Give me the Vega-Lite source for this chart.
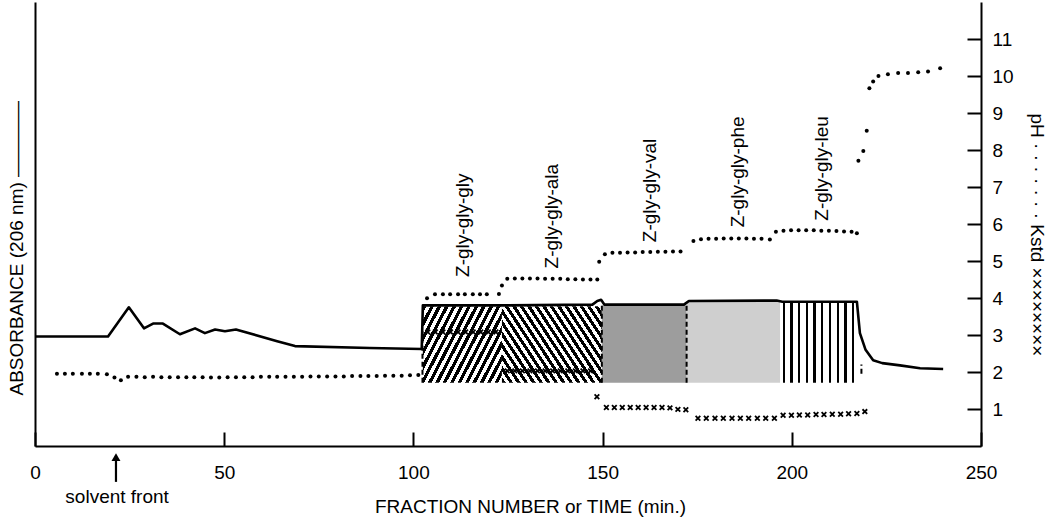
{
  "$schema": "https://vega.github.io/schema/vega-lite/v6.json",
  "width": 946,
  "height": 444,
  "autosize": {"type": "none"},
  "padding": {"left": 35, "top": 2, "right": 69, "bottom": 71},
  "background": "white",
  "config": {
    "view": {"stroke": null},
    "font": "Liberation Sans",
    "text": {"font": "Liberation Sans", "color": "#000"},
    "axis": {
      "domainColor": "#000", "domainWidth": 2, "tickColor": "#000", "tickWidth": 2,
      "labelColor": "#000", "labelFont": "Liberation Sans", "labelFontSize": 19,
      "titleFont": "Liberation Sans", "titleFontSize": 19, "titleFontWeight": "normal",
      "titleColor": "#000", "grid": false
    }
  },
  "datasets": {
    "absorbance": [
      {"x": 0, "y": 2.96}, {"x": 19.3, "y": 2.96}, {"x": 24.8, "y": 3.75}, {"x": 28.8, "y": 3.18},
      {"x": 31.2, "y": 3.31}, {"x": 33.8, "y": 3.31}, {"x": 38.3, "y": 3.02}, {"x": 42.3, "y": 3.18},
      {"x": 44.9, "y": 3.05}, {"x": 47.6, "y": 3.15}, {"x": 50.2, "y": 3.1}, {"x": 53.1, "y": 3.15},
      {"x": 64, "y": 2.83}, {"x": 68.7, "y": 2.7}, {"x": 88.5, "y": 2.65}, {"x": 102.2, "y": 2.62},
      {"x": 102.5, "y": 3.8}, {"x": 123.4, "y": 3.8}, {"x": 147.3, "y": 3.82}, {"x": 148.6, "y": 3.92},
      {"x": 149.6, "y": 3.95}, {"x": 150.5, "y": 3.82}, {"x": 171.5, "y": 3.82}, {"x": 172.8, "y": 3.92},
      {"x": 196, "y": 3.93}, {"x": 197.5, "y": 3.9}, {"x": 217.2, "y": 3.9}, {"x": 218, "y": 3.05},
      {"x": 219.5, "y": 2.6}, {"x": 221.5, "y": 2.32}, {"x": 223.9, "y": 2.24}, {"x": 228.6, "y": 2.18},
      {"x": 233.9, "y": 2.1}, {"x": 240, "y": 2.08}
    ],
    "ph": [
      {"x": 5.8, "y": 1.95}, {"x": 7.9, "y": 1.95}, {"x": 10.0, "y": 1.95}, {"x": 12.4, "y": 1.95},
      {"x": 14.5, "y": 1.95}, {"x": 16.6, "y": 1.95}, {"x": 19.0, "y": 1.94}, {"x": 21.0, "y": 1.85},
      {"x": 22.7, "y": 1.78}, {"x": 24.6, "y": 1.87}, {"x": 26.8, "y": 1.87}, {"x": 29.0, "y": 1.86},
      {"x": 31.2, "y": 1.87}, {"x": 33.4, "y": 1.86}, {"x": 35.6, "y": 1.86}, {"x": 37.8, "y": 1.86},
      {"x": 40.0, "y": 1.86}, {"x": 42.1, "y": 1.86}, {"x": 44.3, "y": 1.86}, {"x": 46.5, "y": 1.85},
      {"x": 48.7, "y": 1.85}, {"x": 50.9, "y": 1.86}, {"x": 53.1, "y": 1.86}, {"x": 55.3, "y": 1.86},
      {"x": 57.5, "y": 1.86}, {"x": 59.7, "y": 1.87}, {"x": 61.9, "y": 1.87}, {"x": 64.0, "y": 1.87},
      {"x": 66.2, "y": 1.87}, {"x": 68.4, "y": 1.87}, {"x": 70.6, "y": 1.87}, {"x": 72.8, "y": 1.88},
      {"x": 75.0, "y": 1.88}, {"x": 77.2, "y": 1.88}, {"x": 79.4, "y": 1.88}, {"x": 81.6, "y": 1.88},
      {"x": 83.8, "y": 1.89}, {"x": 86.0, "y": 1.89}, {"x": 88.1, "y": 1.89}, {"x": 90.3, "y": 1.89},
      {"x": 92.5, "y": 1.9}, {"x": 94.7, "y": 1.9}, {"x": 96.9, "y": 1.9}, {"x": 99.1, "y": 1.91},
      {"x": 101.3, "y": 1.92},
      {"x": 103.6, "y": 3.99}, {"x": 105.7, "y": 4.1}, {"x": 107.8, "y": 4.1}, {"x": 109.7, "y": 4.1},
      {"x": 111.8, "y": 4.1}, {"x": 113.6, "y": 4.1}, {"x": 115.7, "y": 4.1}, {"x": 117.6, "y": 4.1},
      {"x": 119.4, "y": 4.1}, {"x": 122.6, "y": 4.11},
      {"x": 123.4, "y": 4.34}, {"x": 124.8, "y": 4.52}, {"x": 126.8, "y": 4.53}, {"x": 128.8, "y": 4.53},
      {"x": 130.8, "y": 4.53}, {"x": 132.8, "y": 4.53}, {"x": 134.8, "y": 4.52}, {"x": 136.8, "y": 4.52},
      {"x": 138.8, "y": 4.52}, {"x": 140.8, "y": 4.51}, {"x": 142.8, "y": 4.51}, {"x": 144.8, "y": 4.5},
      {"x": 146.8, "y": 4.5}, {"x": 148.6, "y": 4.5},
      {"x": 149.1, "y": 4.98}, {"x": 150.6, "y": 5.18}, {"x": 152.6, "y": 5.22}, {"x": 154.6, "y": 5.22},
      {"x": 156.6, "y": 5.23}, {"x": 158.6, "y": 5.23}, {"x": 160.6, "y": 5.24}, {"x": 162.6, "y": 5.24},
      {"x": 164.6, "y": 5.25}, {"x": 166.6, "y": 5.25}, {"x": 168.6, "y": 5.26}, {"x": 170.6, "y": 5.26},
      {"x": 174.0, "y": 5.54}, {"x": 176.0, "y": 5.59}, {"x": 178.0, "y": 5.6}, {"x": 180.0, "y": 5.6},
      {"x": 182.0, "y": 5.61}, {"x": 184.0, "y": 5.61}, {"x": 186.0, "y": 5.61}, {"x": 188.0, "y": 5.61},
      {"x": 190.0, "y": 5.6}, {"x": 192.0, "y": 5.6}, {"x": 194.2, "y": 5.58},
      {"x": 195.8, "y": 5.79}, {"x": 197.8, "y": 5.82}, {"x": 199.8, "y": 5.83}, {"x": 201.8, "y": 5.83},
      {"x": 203.8, "y": 5.83}, {"x": 205.8, "y": 5.83}, {"x": 207.8, "y": 5.82}, {"x": 209.8, "y": 5.82},
      {"x": 211.8, "y": 5.81}, {"x": 213.8, "y": 5.8}, {"x": 215.8, "y": 5.79}, {"x": 217.2, "y": 5.75},
      {"x": 217.6, "y": 7.71}, {"x": 218.9, "y": 7.97}, {"x": 219.8, "y": 8.52}, {"x": 220.5, "y": 9.67},
      {"x": 221.5, "y": 9.85}, {"x": 222.9, "y": 10.0}, {"x": 225.4, "y": 10.05}, {"x": 228.1, "y": 10.08},
      {"x": 230.7, "y": 10.08}, {"x": 233.4, "y": 10.1}, {"x": 236.0, "y": 10.12}, {"x": 239.2, "y": 10.21}
    ],
    "kstd": [
      {"x": 103.8, "y": 3.08}, {"x": 105.8, "y": 3.08}, {"x": 107.8, "y": 3.08}, {"x": 109.8, "y": 3.08},
      {"x": 111.8, "y": 3.08}, {"x": 113.8, "y": 3.08}, {"x": 115.8, "y": 3.08}, {"x": 117.8, "y": 3.08},
      {"x": 119.8, "y": 3.08}, {"x": 121.8, "y": 3.08},
      {"x": 124.8, "y": 2.03}, {"x": 126.8, "y": 2.03}, {"x": 128.8, "y": 2.03}, {"x": 130.8, "y": 2.03},
      {"x": 132.8, "y": 2.03}, {"x": 134.8, "y": 2.03}, {"x": 136.8, "y": 2.03}, {"x": 138.8, "y": 2.03},
      {"x": 140.8, "y": 2.03}, {"x": 142.8, "y": 2.03}, {"x": 144.8, "y": 2.03}, {"x": 146.8, "y": 2.03},
      {"x": 148.5, "y": 1.33},
      {"x": 151.0, "y": 1.04}, {"x": 153.1, "y": 1.04}, {"x": 155.2, "y": 1.04}, {"x": 157.3, "y": 1.04},
      {"x": 159.4, "y": 1.04}, {"x": 161.5, "y": 1.04}, {"x": 163.6, "y": 1.04}, {"x": 165.7, "y": 1.04},
      {"x": 167.8, "y": 1.03}, {"x": 169.9, "y": 0.99}, {"x": 172.0, "y": 0.98},
      {"x": 175.2, "y": 0.75}, {"x": 177.4, "y": 0.75}, {"x": 179.7, "y": 0.75}, {"x": 181.9, "y": 0.75},
      {"x": 184.2, "y": 0.75}, {"x": 186.4, "y": 0.75}, {"x": 188.6, "y": 0.75}, {"x": 190.9, "y": 0.75},
      {"x": 193.1, "y": 0.75}, {"x": 195.4, "y": 0.75},
      {"x": 197.7, "y": 0.83}, {"x": 199.9, "y": 0.83}, {"x": 202.0, "y": 0.84}, {"x": 204.2, "y": 0.84},
      {"x": 206.4, "y": 0.85}, {"x": 208.5, "y": 0.85}, {"x": 210.7, "y": 0.86}, {"x": 212.9, "y": 0.86},
      {"x": 215.0, "y": 0.87}, {"x": 217.2, "y": 0.88}, {"x": 219.3, "y": 0.93}
    ],
    "regions": [
      {"name": "gly", "x1": 102.5, "x2": 123.4, "y1": 1.71, "y2": 3.78},
      {"name": "ala", "x1": 123.4, "x2": 149.8, "y1": 1.71, "y2": 3.78},
      {"name": "val", "x1": 149.8, "x2": 172.2, "y1": 1.71, "y2": 3.8},
      {"name": "phe", "x1": 172.2, "x2": 196.9, "y1": 1.71, "y2": 3.9},
      {"name": "leu", "x1": 196.9, "x2": 217.2, "y1": 1.71, "y2": 3.9}
    ],
    "bounds": [
      {"x": 102.4, "y1": 1.71, "y2": 3.1},
      {"x": 149.8, "y1": 1.71, "y2": 3.8},
      {"x": 172.2, "y1": 1.71, "y2": 3.85},
      {"x": 218.4, "y1": 1.95, "y2": 2.2}
    ],
    "labels": [
      {"label": "Z-gly-gly-gly", "x": 113.1, "y": 4.57},
      {"label": "Z-gly-gly-ala", "x": 136.6, "y": 4.8},
      {"label": "Z-gly-gly-val", "x": 162.5, "y": 5.51},
      {"label": "Z-gly-gly-phe", "x": 185.8, "y": 5.91},
      {"label": "Z-gly-gly-leu", "x": 208.0, "y": 6.09}
    ],
    "notes": [
      {"label": "solvent front", "x": 21.7, "y": -1.54, "ax": 21.4, "ay1": -0.38, "ay2": -0.97, "hy": -0.3}
    ]
  },
  "layer": [
    {
      "data": {"name": "absorbance"},
      "mark": {"type": "line", "color": "#000", "strokeWidth": 2.6, "strokeJoin": "round", "opacity": 0},
      "encoding": {
        "x": {"field": "x", "type": "quantitative", "scale": {"domain": [0, 250], "nice": false},
          "axis": {"values": [0, 50, 100, 150, 200, 250], "tickSize": -14, "labelPadding": 31,
            "title": "FRACTION NUMBER or TIME (min.)", "titleX": 495, "titleY": 66,
            "titleAlign": "center", "titleBaseline": "alphabetic", "labelFlush": false}},
        "y": {"field": "y", "type": "quantitative", "scale": {"domain": [0, 12], "nice": false},
          "axis": {"orient": "left", "ticks": false, "labels": false,
            "title": "ABSORBANCE  (206 nm) ————", "titleAngle": 270, "titleAlign": "left",
            "titleBaseline": "middle", "titleX": -18.5, "titleY": 393}}
      }
    },
    {
      "data": {"name": "regions"},
      "transform": [{"filter": "datum.name === 'gly'"}],
      "mark": {"type": "rect", "fill": {"gradient": "linear", "x1": 0, "y1": 0, "x2": 1.2, "y2": 0.6, "stops": [
        {"offset": 0, "color": "#000"}, {"offset": 0.03125, "color": "#000"}, {"offset": 0.03125, "color": "#fff"}, {"offset": 0.0625, "color": "#fff"},
        {"offset": 0.0625, "color": "#000"}, {"offset": 0.09375, "color": "#000"}, {"offset": 0.09375, "color": "#fff"}, {"offset": 0.125, "color": "#fff"},
        {"offset": 0.125, "color": "#000"}, {"offset": 0.15625, "color": "#000"}, {"offset": 0.15625, "color": "#fff"}, {"offset": 0.1875, "color": "#fff"},
        {"offset": 0.1875, "color": "#000"}, {"offset": 0.21875, "color": "#000"}, {"offset": 0.21875, "color": "#fff"}, {"offset": 0.25, "color": "#fff"},
        {"offset": 0.25, "color": "#000"}, {"offset": 0.28125, "color": "#000"}, {"offset": 0.28125, "color": "#fff"}, {"offset": 0.3125, "color": "#fff"},
        {"offset": 0.3125, "color": "#000"}, {"offset": 0.34375, "color": "#000"}, {"offset": 0.34375, "color": "#fff"}, {"offset": 0.375, "color": "#fff"},
        {"offset": 0.375, "color": "#000"}, {"offset": 0.40625, "color": "#000"}, {"offset": 0.40625, "color": "#fff"}, {"offset": 0.4375, "color": "#fff"},
        {"offset": 0.4375, "color": "#000"}, {"offset": 0.46875, "color": "#000"}, {"offset": 0.46875, "color": "#fff"}, {"offset": 0.5, "color": "#fff"},
        {"offset": 0.5, "color": "#000"}, {"offset": 0.53125, "color": "#000"}, {"offset": 0.53125, "color": "#fff"}, {"offset": 0.5625, "color": "#fff"},
        {"offset": 0.5625, "color": "#000"}, {"offset": 0.59375, "color": "#000"}, {"offset": 0.59375, "color": "#fff"}, {"offset": 0.625, "color": "#fff"},
        {"offset": 0.625, "color": "#000"}, {"offset": 0.65625, "color": "#000"}, {"offset": 0.65625, "color": "#fff"}, {"offset": 0.6875, "color": "#fff"},
        {"offset": 0.6875, "color": "#000"}, {"offset": 0.71875, "color": "#000"}, {"offset": 0.71875, "color": "#fff"}, {"offset": 0.75, "color": "#fff"},
        {"offset": 0.75, "color": "#000"}, {"offset": 0.78125, "color": "#000"}, {"offset": 0.78125, "color": "#fff"}, {"offset": 0.8125, "color": "#fff"},
        {"offset": 0.8125, "color": "#000"}, {"offset": 0.84375, "color": "#000"}, {"offset": 0.84375, "color": "#fff"}, {"offset": 0.875, "color": "#fff"},
        {"offset": 0.875, "color": "#000"}, {"offset": 0.90625, "color": "#000"}, {"offset": 0.90625, "color": "#fff"}, {"offset": 0.9375, "color": "#fff"},
        {"offset": 0.9375, "color": "#000"}, {"offset": 0.96875, "color": "#000"}, {"offset": 0.96875, "color": "#fff"}, {"offset": 1, "color": "#fff"}
      ]}},
      "encoding": {
        "x": {"field": "x1", "type": "quantitative", "scale": {"domain": [0, 250], "nice": false}},
        "x2": {"field": "x2"},
        "y": {"field": "y1", "type": "quantitative", "scale": {"domain": [0, 12], "nice": false}, "axis": null},
        "y2": {"field": "y2"}
      }
    },
    {
      "data": {"name": "regions"},
      "transform": [{"filter": "datum.name === 'ala'"}],
      "mark": {"type": "rect", "fill": {"gradient": "linear", "x1": 0, "y1": 1, "x2": 1.2, "y2": 0.4, "stops": [
        {"offset": 0, "color": "#000"}, {"offset": 0.025, "color": "#000"}, {"offset": 0.025, "color": "#fff"}, {"offset": 0.05, "color": "#fff"},
        {"offset": 0.05, "color": "#000"}, {"offset": 0.075, "color": "#000"}, {"offset": 0.075, "color": "#fff"}, {"offset": 0.1, "color": "#fff"},
        {"offset": 0.1, "color": "#000"}, {"offset": 0.125, "color": "#000"}, {"offset": 0.125, "color": "#fff"}, {"offset": 0.15, "color": "#fff"},
        {"offset": 0.15, "color": "#000"}, {"offset": 0.175, "color": "#000"}, {"offset": 0.175, "color": "#fff"}, {"offset": 0.2, "color": "#fff"},
        {"offset": 0.2, "color": "#000"}, {"offset": 0.225, "color": "#000"}, {"offset": 0.225, "color": "#fff"}, {"offset": 0.25, "color": "#fff"},
        {"offset": 0.25, "color": "#000"}, {"offset": 0.275, "color": "#000"}, {"offset": 0.275, "color": "#fff"}, {"offset": 0.3, "color": "#fff"},
        {"offset": 0.3, "color": "#000"}, {"offset": 0.325, "color": "#000"}, {"offset": 0.325, "color": "#fff"}, {"offset": 0.35, "color": "#fff"},
        {"offset": 0.35, "color": "#000"}, {"offset": 0.375, "color": "#000"}, {"offset": 0.375, "color": "#fff"}, {"offset": 0.4, "color": "#fff"},
        {"offset": 0.4, "color": "#000"}, {"offset": 0.425, "color": "#000"}, {"offset": 0.425, "color": "#fff"}, {"offset": 0.45, "color": "#fff"},
        {"offset": 0.45, "color": "#000"}, {"offset": 0.475, "color": "#000"}, {"offset": 0.475, "color": "#fff"}, {"offset": 0.5, "color": "#fff"},
        {"offset": 0.5, "color": "#000"}, {"offset": 0.525, "color": "#000"}, {"offset": 0.525, "color": "#fff"}, {"offset": 0.55, "color": "#fff"},
        {"offset": 0.55, "color": "#000"}, {"offset": 0.575, "color": "#000"}, {"offset": 0.575, "color": "#fff"}, {"offset": 0.6, "color": "#fff"},
        {"offset": 0.6, "color": "#000"}, {"offset": 0.625, "color": "#000"}, {"offset": 0.625, "color": "#fff"}, {"offset": 0.65, "color": "#fff"},
        {"offset": 0.65, "color": "#000"}, {"offset": 0.675, "color": "#000"}, {"offset": 0.675, "color": "#fff"}, {"offset": 0.7, "color": "#fff"},
        {"offset": 0.7, "color": "#000"}, {"offset": 0.725, "color": "#000"}, {"offset": 0.725, "color": "#fff"}, {"offset": 0.75, "color": "#fff"},
        {"offset": 0.75, "color": "#000"}, {"offset": 0.775, "color": "#000"}, {"offset": 0.775, "color": "#fff"}, {"offset": 0.8, "color": "#fff"},
        {"offset": 0.8, "color": "#000"}, {"offset": 0.825, "color": "#000"}, {"offset": 0.825, "color": "#fff"}, {"offset": 0.85, "color": "#fff"},
        {"offset": 0.85, "color": "#000"}, {"offset": 0.875, "color": "#000"}, {"offset": 0.875, "color": "#fff"}, {"offset": 0.9, "color": "#fff"},
        {"offset": 0.9, "color": "#000"}, {"offset": 0.925, "color": "#000"}, {"offset": 0.925, "color": "#fff"}, {"offset": 0.95, "color": "#fff"},
        {"offset": 0.95, "color": "#000"}, {"offset": 0.975, "color": "#000"}, {"offset": 0.975, "color": "#fff"}, {"offset": 1, "color": "#fff"}
      ]}},
      "encoding": {
        "x": {"field": "x1", "type": "quantitative", "scale": {"domain": [0, 250], "nice": false}},
        "x2": {"field": "x2"},
        "y": {"field": "y1", "type": "quantitative", "scale": {"domain": [0, 12], "nice": false}, "axis": null},
        "y2": {"field": "y2"}
      }
    },
    {
      "data": {"name": "regions"},
      "transform": [{"filter": "datum.name === 'val'"}],
      "mark": {"type": "rect", "fill": "#9d9d9d"},
      "encoding": {
        "x": {"field": "x1", "type": "quantitative", "scale": {"domain": [0, 250], "nice": false}},
        "x2": {"field": "x2"},
        "y": {"field": "y1", "type": "quantitative", "scale": {"domain": [0, 12], "nice": false}, "axis": null},
        "y2": {"field": "y2"}
      }
    },
    {
      "data": {"name": "regions"},
      "transform": [{"filter": "datum.name === 'phe'"}],
      "mark": {"type": "rect", "fill": "#cfcfcf"},
      "encoding": {
        "x": {"field": "x1", "type": "quantitative", "scale": {"domain": [0, 250], "nice": false}},
        "x2": {"field": "x2"},
        "y": {"field": "y1", "type": "quantitative", "scale": {"domain": [0, 12], "nice": false}, "axis": null},
        "y2": {"field": "y2"}
      }
    },
    {
      "data": {"name": "regions"},
      "transform": [{"filter": "datum.name === 'leu'"}],
      "mark": {"type": "rect", "fill": {"gradient": "linear", "x1": 0, "y1": 0, "x2": 1, "y2": 0, "stops": [
        {"offset": 0, "color": "#fff"}, {"offset": 0.035, "color": "#fff"}, {"offset": 0.035, "color": "#000"}, {"offset": 0.065, "color": "#000"},
        {"offset": 0.065, "color": "#fff"}, {"offset": 0.135, "color": "#fff"}, {"offset": 0.135, "color": "#000"}, {"offset": 0.165, "color": "#000"},
        {"offset": 0.165, "color": "#fff"}, {"offset": 0.235, "color": "#fff"}, {"offset": 0.235, "color": "#000"}, {"offset": 0.265, "color": "#000"},
        {"offset": 0.265, "color": "#fff"}, {"offset": 0.335, "color": "#fff"}, {"offset": 0.335, "color": "#000"}, {"offset": 0.365, "color": "#000"},
        {"offset": 0.365, "color": "#fff"}, {"offset": 0.435, "color": "#fff"}, {"offset": 0.435, "color": "#000"}, {"offset": 0.465, "color": "#000"},
        {"offset": 0.465, "color": "#fff"}, {"offset": 0.535, "color": "#fff"}, {"offset": 0.535, "color": "#000"}, {"offset": 0.565, "color": "#000"},
        {"offset": 0.565, "color": "#fff"}, {"offset": 0.635, "color": "#fff"}, {"offset": 0.635, "color": "#000"}, {"offset": 0.665, "color": "#000"},
        {"offset": 0.665, "color": "#fff"}, {"offset": 0.735, "color": "#fff"}, {"offset": 0.735, "color": "#000"}, {"offset": 0.765, "color": "#000"},
        {"offset": 0.765, "color": "#fff"}, {"offset": 0.835, "color": "#fff"}, {"offset": 0.835, "color": "#000"}, {"offset": 0.865, "color": "#000"},
        {"offset": 0.865, "color": "#fff"}, {"offset": 0.935, "color": "#fff"}, {"offset": 0.935, "color": "#000"}, {"offset": 0.965, "color": "#000"},
        {"offset": 0.965, "color": "#fff"}, {"offset": 1, "color": "#fff"}
      ]}},
      "encoding": {
        "x": {"field": "x1", "type": "quantitative", "scale": {"domain": [0, 250], "nice": false}},
        "x2": {"field": "x2"},
        "y": {"field": "y1", "type": "quantitative", "scale": {"domain": [0, 12], "nice": false}, "axis": null},
        "y2": {"field": "y2"}
      }
    },
    {
      "data": {"name": "bounds"},
      "mark": {"type": "rule", "color": "#000", "strokeWidth": 2, "strokeDash": [5, 3]},
      "encoding": {
        "x": {"field": "x", "type": "quantitative", "scale": {"domain": [0, 250], "nice": false}},
        "y": {"field": "y1", "type": "quantitative", "scale": {"domain": [0, 12], "nice": false}, "axis": null},
        "y2": {"field": "y2"}
      }
    },
    {
      "data": {"name": "kstd"},
      "mark": {"type": "point", "shape": "M-1,-1L1,1M1,-1L-1,1", "filled": false, "stroke": "#000", "strokeWidth": 1.8, "size": 22, "opacity": 1},
      "encoding": {
        "x": {"field": "x", "type": "quantitative", "scale": {"domain": [0, 250], "nice": false}},
        "y": {"field": "y", "type": "quantitative", "scale": {"domain": [0, 12], "nice": false}, "axis": null}
      }
    },
    {
      "data": {"name": "absorbance"},
      "mark": {"type": "line", "color": "#000", "strokeWidth": 2.6, "strokeJoin": "round"},
      "encoding": {
        "x": {"field": "x", "type": "quantitative", "scale": {"domain": [0, 250], "nice": false}},
        "y": {"field": "y", "type": "quantitative", "scale": {"domain": [0, 12], "nice": false}, "axis": null}
      }
    },
    {
      "data": {"name": "ph"},
      "mark": {"type": "circle", "color": "#000", "size": 16, "opacity": 1},
      "encoding": {
        "x": {"field": "x", "type": "quantitative", "scale": {"domain": [0, 250], "nice": false}},
        "y": {"field": "y", "type": "quantitative", "scale": {"domain": [0, 12], "nice": false},
          "axis": {"orient": "right", "values": [1, 2, 3, 4, 5, 6, 7, 8, 9, 10, 11], "tickSize": -14, "labelPadding": 25,
            "title": "pH · · · · · · ·  Kstd ××××××××", "titleAngle": 90, "titleAlign": "left",
            "titleBaseline": "middle", "titleX": 55, "titleY": 111}}
      }
    },
    {
      "data": {"name": "labels"},
      "mark": {"type": "text", "angle": 270, "align": "left", "baseline": "middle", "fontSize": 19},
      "encoding": {
        "x": {"field": "x", "type": "quantitative", "scale": {"domain": [0, 250], "nice": false}},
        "y": {"field": "y", "type": "quantitative", "scale": {"domain": [0, 12], "nice": false}, "axis": null},
        "text": {"field": "label"}
      }
    },
    {
      "data": {"name": "notes"},
      "mark": {"type": "text", "align": "center", "baseline": "alphabetic", "fontSize": 19},
      "encoding": {
        "x": {"field": "x", "type": "quantitative", "scale": {"domain": [0, 250], "nice": false}},
        "y": {"field": "y", "type": "quantitative", "scale": {"domain": [0, 12], "nice": false}, "axis": null},
        "text": {"field": "label"}
      }
    },
    {
      "data": {"name": "notes"},
      "mark": {"type": "rule", "color": "#000", "strokeWidth": 2.2},
      "encoding": {
        "x": {"field": "ax", "type": "quantitative", "scale": {"domain": [0, 250], "nice": false}},
        "y": {"field": "ay1", "type": "quantitative", "scale": {"domain": [0, 12], "nice": false}, "axis": null},
        "y2": {"field": "ay2"}
      }
    },
    {
      "data": {"name": "notes"},
      "mark": {"type": "point", "shape": "triangle-up", "filled": true, "color": "#000", "size": 80, "opacity": 1},
      "encoding": {
        "x": {"field": "ax", "type": "quantitative", "scale": {"domain": [0, 250], "nice": false}},
        "y": {"field": "hy", "type": "quantitative", "scale": {"domain": [0, 12], "nice": false}, "axis": null}
      }
    }
  ],
  "resolve": {"axis": {"y": "independent"}}
}
